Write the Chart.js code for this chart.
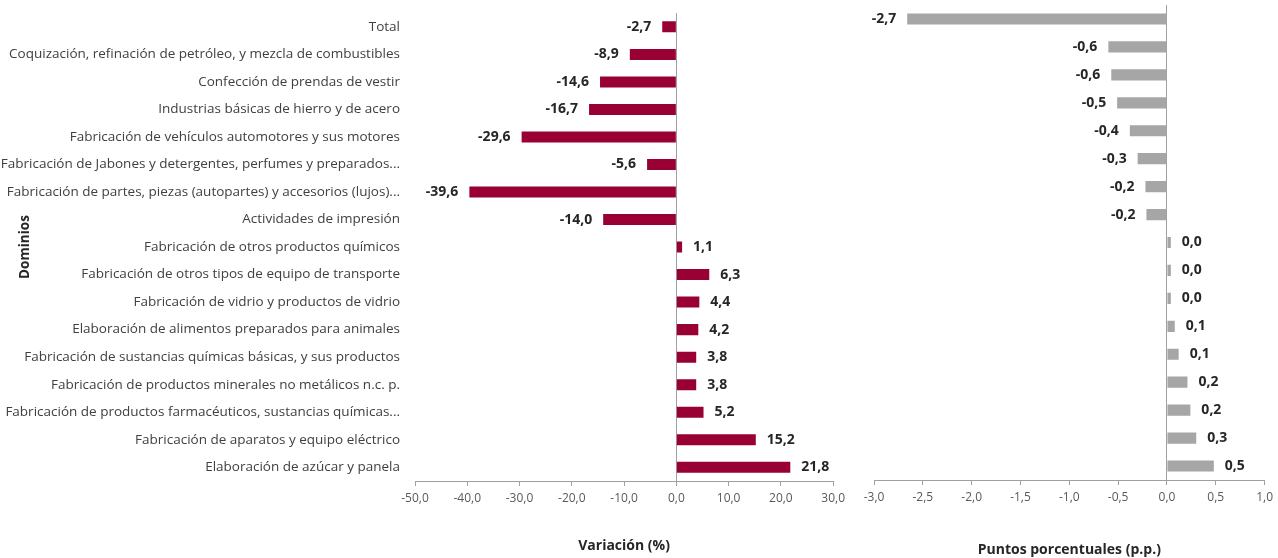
<!DOCTYPE html>
<html>
<head>
<meta charset="utf-8">
<script src="https://cdn.jsdelivr.net/npm/chart.js@4"></script>
<style>
  body { margin: 0; background: #fff; }
  #wrap { position: relative; width: 1278px; height: 558px; overflow: hidden; }
  canvas { position: absolute; }
</style>
</head>
<body>
<div id="wrap">
  <canvas id="leftChart" width="850" height="568" style="left:0; top:-10px"></canvas>
  <canvas id="rightChart" width="428" height="558" style="left:850px; top:0"></canvas>
</div>
<script>
const DOMINIOS = [
  "Total",
  "Coquización, refinación de petróleo, y mezcla de combustibles",
  "Confección de prendas de vestir",
  "Industrias básicas de hierro y de acero",
  "Fabricación de vehículos automotores y sus motores",
  "Fabricación de Jabones y detergentes, perfumes y preparados...",
  "Fabricación de partes, piezas (autopartes) y accesorios (lujos)...",
  "Actividades de impresión",
  "Fabricación de otros productos químicos",
  "Fabricación de otros tipos de equipo de transporte",
  "Fabricación de vidrio y productos de vidrio",
  "Elaboración de alimentos preparados para animales",
  "Fabricación de sustancias químicas básicas, y sus productos",
  "Fabricación de productos minerales no metálicos n.c. p.",
  "Fabricación de productos farmacéuticos, sustancias químicas...",
  "Fabricación de aparatos y equipo eléctrico",
  "Elaboración de azúcar y panela"
];
const variacion = [-2.7, -8.9, -14.6, -16.7, -29.6, -5.6, -39.6, -14.0, 1.1, 6.3, 4.4, 4.2, 3.8, 3.8, 5.2, 15.2, 21.8];
const puntos = [-2.66, -0.60, -0.57, -0.51, -0.38, -0.30, -0.22, -0.21, 0.04, 0.04, 0.04, 0.08, 0.12, 0.21, 0.24, 0.30, 0.48];

const FONT = "'Open Sans', 'Noto Sans', sans-serif";
const fmt = v => v.toFixed(1).replace('.', ',');

// etiquetas de valor al final de cada barra
const valueLabels = {
  id: 'valueLabels',
  afterDatasetsDraw(chart) {
    const ctx = chart.ctx;
    const meta = chart.getDatasetMeta(0);
    const data = chart.data.datasets[0].data;
    ctx.save();
    ctx.font = "bold 14px " + FONT;
    ctx.fillStyle = '#262626';
    ctx.textBaseline = 'middle';
    meta.data.forEach((bar, i) => {
      const v = data[i];
      if (v < 0) { ctx.textAlign = 'right'; ctx.fillText(fmt(v), bar.x - 11, bar.y); }
      else { ctx.textAlign = 'left'; ctx.fillText(fmt(v), bar.x + 11, bar.y); }
    });
    ctx.restore();
  }
};

function makeChart(id, values, color, opts) {
  return new Chart(document.getElementById(id), {
    type: 'bar',
    data: {
      labels: DOMINIOS,
      datasets: [{ data: values, backgroundColor: color, barPercentage: 0.4, categoryPercentage: 1 }]
    },
    plugins: [valueLabels],
    options: {
      indexAxis: 'y',
      responsive: false,
      animation: false,
      layout: { padding: opts.padding },
      plugins: { legend: { display: false }, tooltip: { enabled: false } },
      scales: {
        x: {
          min: opts.min, max: opts.max,
          ticks: { stepSize: opts.step, color: '#595959', font: { family: FONT, size: 12 }, padding: 5, callback: v => fmt(v) },
          grid: { color: c => c.tick && c.tick.value === 0 ? '#a0a0a0' : 'rgba(0,0,0,0)', tickColor: '#a0a0a0', tickLength: 5, lineWidth: 1 },
          border: { display: true, color: '#a0a0a0' },
          title: { display: true, text: opts.xTitle, color: '#262626', font: { family: FONT, size: 14, weight: 'bold' }, padding: { top: 0, bottom: opts.titleBottom } },
          afterFit: s => { s.height = opts.xHeight; }
        },
        y: {
          ticks: { display: opts.showLabels, autoSkip: false, color: '#404040', font: { family: FONT, size: 13.5 }, padding: 15 },
          grid: { display: false, drawTicks: false },
          border: { display: false },
          title: { display: opts.showLabels, text: 'Dominios', color: '#262626', font: { family: FONT, size: 13.5, weight: 'bold' }, padding: { top: 17, bottom: 0 } },
          afterFit: s => { s.width = opts.yWidth; }
        }
      }
    }
  });
}

makeChart('leftChart', variacion, '#990033', {
  min: -50, max: 30, step: 10, xTitle: 'Variación (%)', showLabels: true,
  padding: { top: 1, right: 16, bottom: 0, left: 0 }, xHeight: 77, yWidth: 415, titleBottom: 4
});
makeChart('rightChart', puntos, '#a6a6a6', {
  min: -3, max: 1, step: 0.5, xTitle: 'Puntos porcentuales (p.p.)', showLabels: false,
  padding: { top: 5, right: 8, bottom: 0, left: 0 }, xHeight: 78, yWidth: 24, titleBottom: 0
});
</script>
</body>
</html>
